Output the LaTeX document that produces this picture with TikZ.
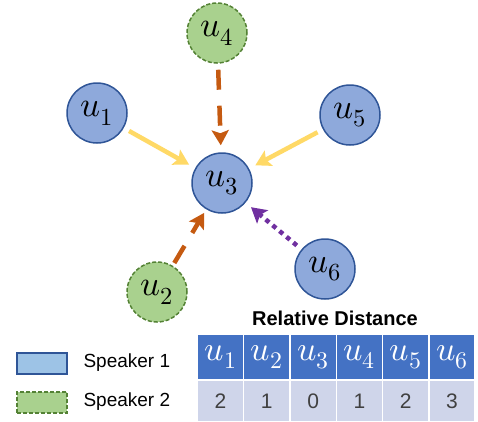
\documentclass[tikz,border=0pt]{standalone}
\usepackage{unicode-math}
\setmathfont{Latin Modern Math}
\newfontfamily\spkfont{Liberation Sans}
\definecolor{uBlue}{HTML}{8EA9DB}
\definecolor{uBlueLine}{HTML}{2F5597}
\definecolor{uGreen}{HTML}{A9D18E}
\definecolor{uGreenLine}{HTML}{548235}
\definecolor{keyBlue}{HTML}{9DC3E6}
\definecolor{hdrBlue}{HTML}{4472C4}
\definecolor{rowBlue}{HTML}{CFD5EA}
\definecolor{numGray}{HTML}{404040}
\definecolor{arrYellow}{HTML}{FFD966}
\definecolor{arrOrange}{HTML}{C55A11}
\definecolor{arrPurple}{HTML}{7030A0}
\usetikzlibrary{arrows.meta}

\begin{document}
\begin{tikzpicture}[x=1pt, y=-1pt,
  spkone/.style={circle, draw=uBlueLine, fill=uBlue, line width=1.5pt,
    minimum size=60pt, inner sep=0pt, font=\fontsize{35}{35}\selectfont},
  spktwo/.style={spkone, draw=uGreenLine, fill=uGreen, dash pattern=on 4pt off 2pt},
  arr/.style={-{Stealth[length=15pt, width=17pt, inset=3pt]}, line width=4.5pt,
    shorten <=6pt, shorten >=7pt},
  hcell/.style={fill=hdrBlue, text=white, minimum width=44.8pt, minimum height=44pt,
    inner sep=0pt, font=\fontsize{34}{34}\selectfont},
  dcell/.style={fill=rowBlue, text=numGray, minimum width=44.8pt, minimum height=40pt,
    inner sep=0pt, font=\spkfont\fontsize{21}{21}\selectfont},
  key/.style={line width=1.5pt, minimum width=50pt, minimum height=21pt, inner sep=0pt},
  keytxt/.style={anchor=west, font=\spkfont\fontsize{19}{19}\selectfont}
]
  \useasboundingbox (0,0) rectangle (478,421);
  % utterance nodes
  \node[spkone] (u1) at (97,113) {$u_1$};
  \node[spktwo] (u2) at (157,292) {$u_2$};
  \node[spkone] (u3) at (222,183) {$u_3$};
  \node[spktwo] (u4) at (217,33) {$u_4$};
  \node[spkone] (u5) at (350,115) {$u_5$};
  \node[spkone] (u6) at (325,269) {$u_6$};
  % edges into u3
  \draw[arr, arrYellow] (u1) -- (u3);
  \draw[arr, arrYellow] (u5) -- (u3);
  \draw[arr, arrOrange, dash pattern=on 20pt off 16pt] (u4) -- (u3);
  \draw[arr, arrOrange, dash pattern=on 20pt off 15pt, shorten <=3pt, shorten >=4pt] (u2) -- (u3);
  \draw[arr, arrPurple, dash pattern=on 4.5pt off 4.5pt] (u6) -- (u3);
  % legend
  \node[key, draw=uBlueLine, fill=keyBlue] (k1) at (42,363.5) {};
  \node[key, draw=uGreenLine, fill=uGreen, dash pattern=on 4pt off 2pt] (k2) at (42,402.5) {};
  \node[keytxt] (t1) at (80,363) {Speaker 1};
  \node[keytxt] (t2) at (80,402) {Speaker 2};
  % distance table
  \node[font=\spkfont\bfseries\fontsize{20}{20}\selectfont] (title) at (335,318) {Relative Distance};
  \foreach \i/\v in {1/2,2/1,3/0,4/1,5/2,6/3} {
    \node[hcell] (h\i) at ({220.5+46.3*(\i-1)},357) {$u_{\i}$};
    \node[dcell] (d\i) at ({220.5+46.3*(\i-1)},401) {\v};
  }
\end{tikzpicture}
\end{document}
